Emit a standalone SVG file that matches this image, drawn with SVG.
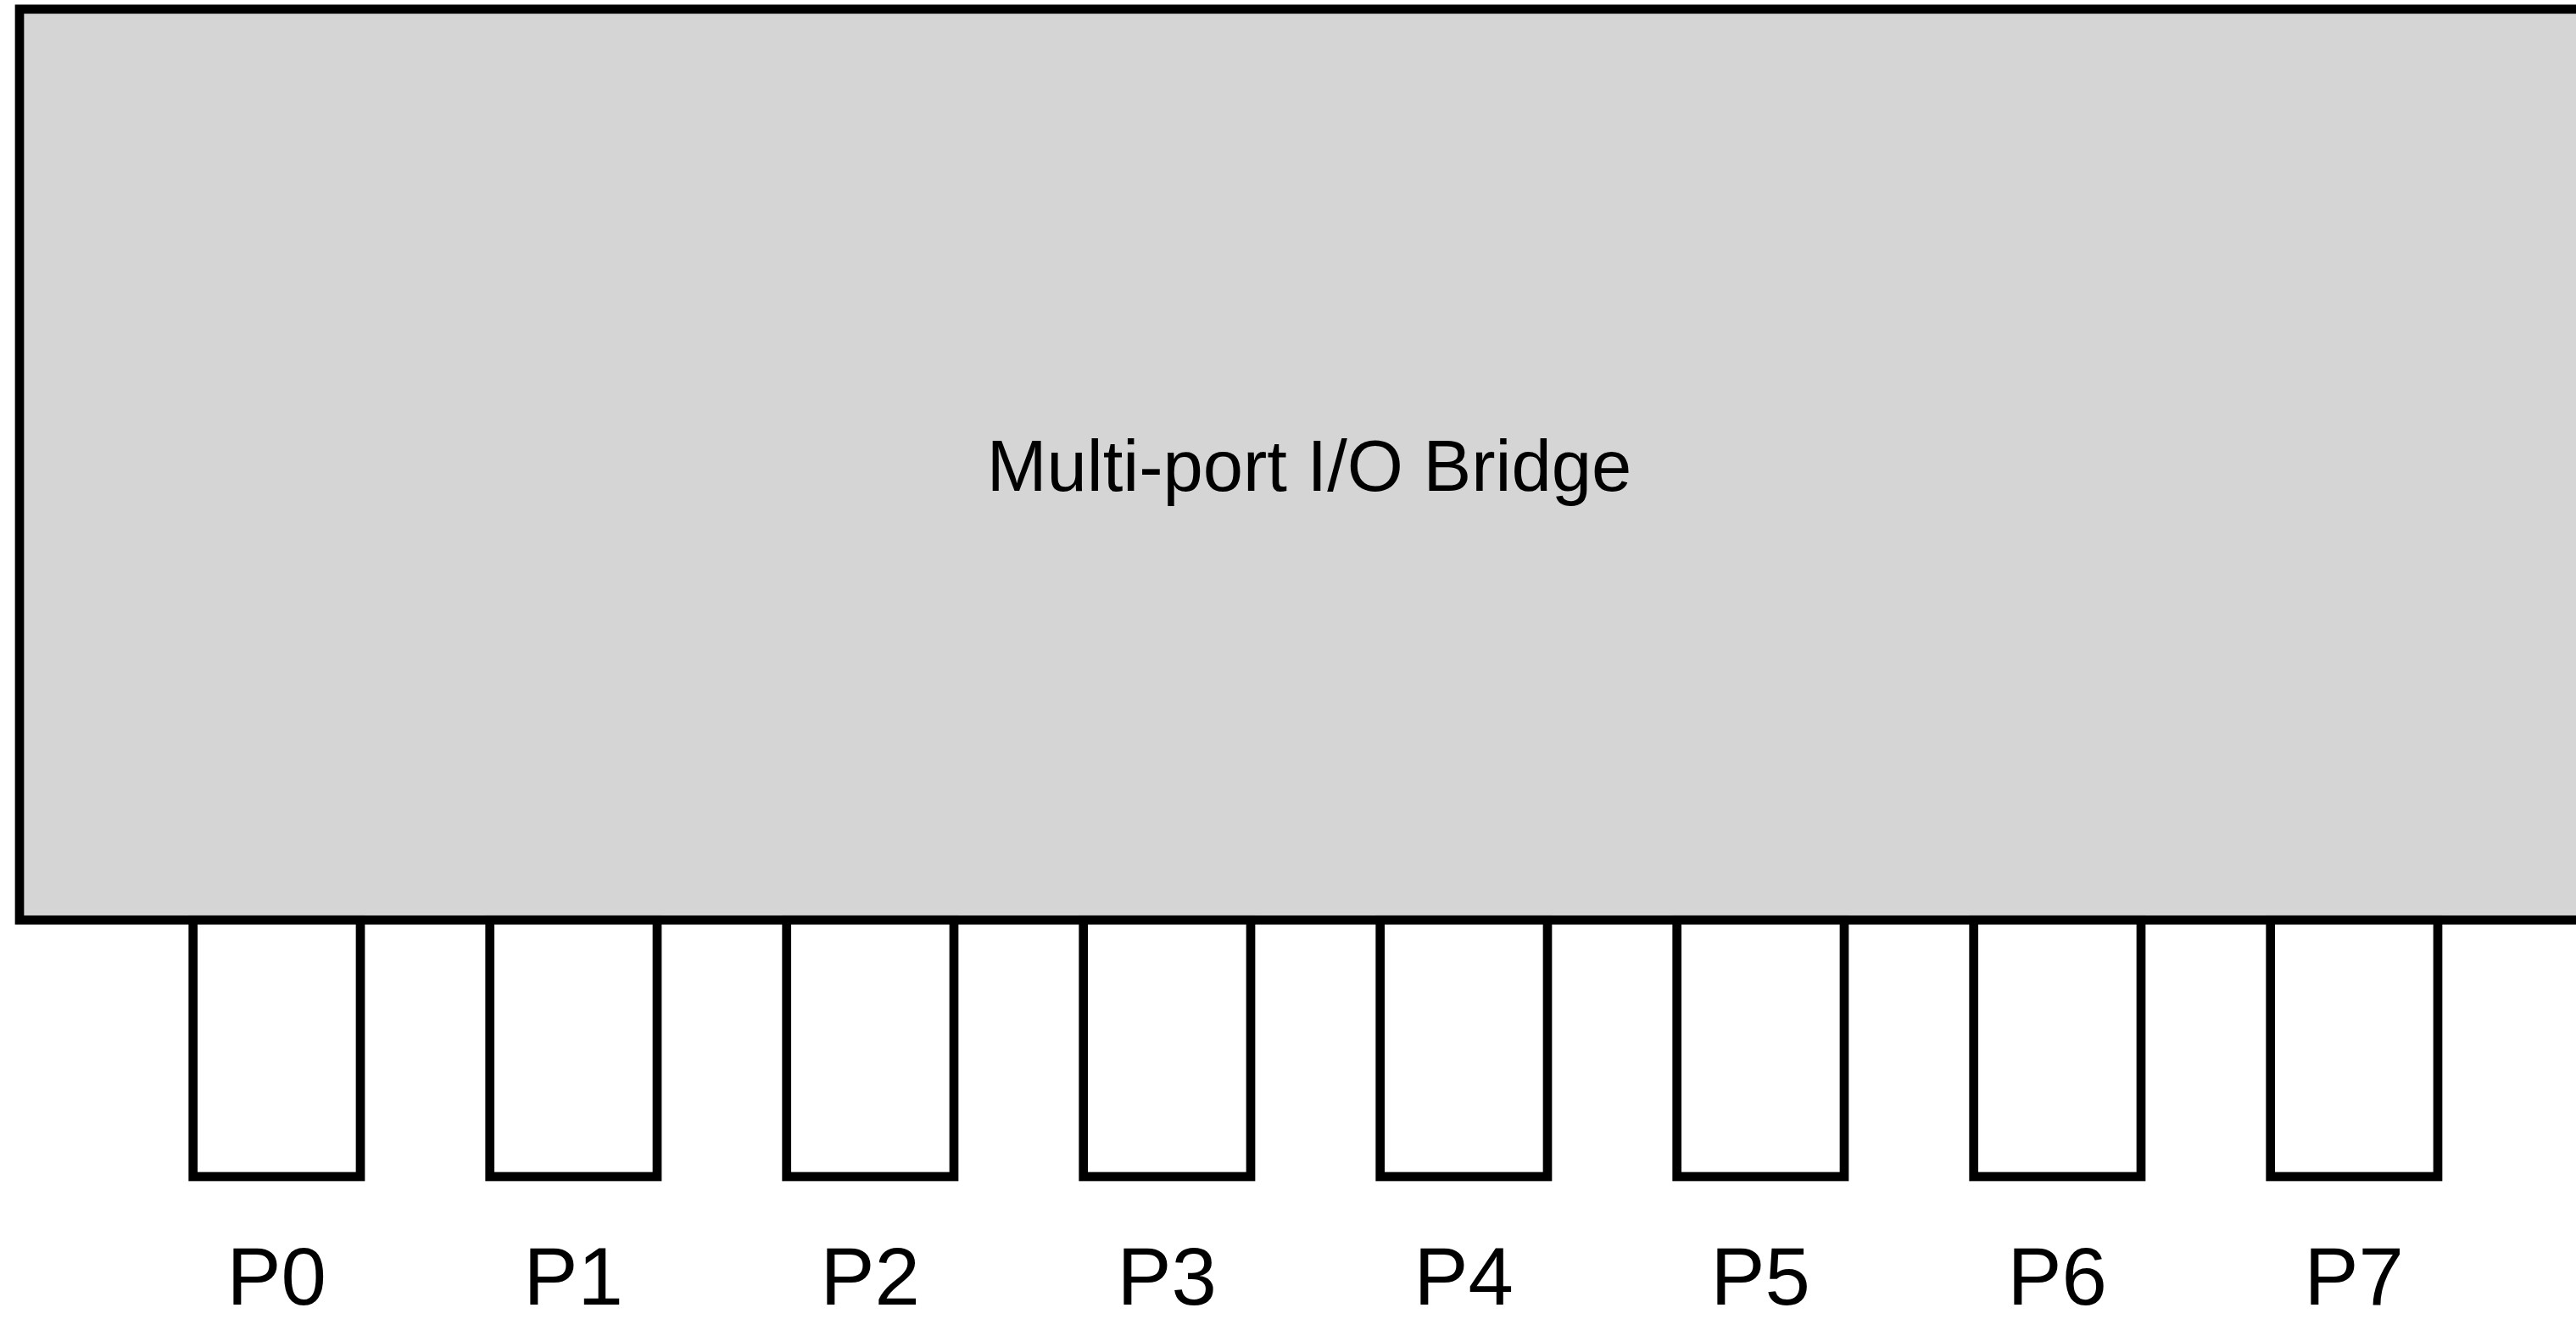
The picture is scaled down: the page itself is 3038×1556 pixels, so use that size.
<svg xmlns="http://www.w3.org/2000/svg" width="3038" height="1556" viewBox="0 0 3038 1556">
  <style>
    .box { stroke: #000; stroke-width: 10.7; }
    .main { fill: #d5d5d5; }
    .port { fill: #fff; }
    .lbl { font-family: "Liberation Sans", Arial, Helvetica, sans-serif; fill: #000; text-anchor: middle; }
    .title { font-size: 85px; }
    .plbl { font-size: 96px; }
  </style>
  <rect x="0" y="0" width="3038" height="1556" fill="#fff"/>
  <g id="bridge">
    <rect class="box main" x="23" y="10.8" width="3042" height="1074.5"/>
    <text class="lbl title" x="1544" y="579">Multi-port I/O Bridge</text>
  </g>
  <g id="connectors"></g>
  <g id="port-P0"><rect class="box port" x="227.7" y="1085.3" width="197.3" height="302.7"/><text class="lbl plbl" x="326.3" y="1539">P0</text></g>
  <g id="port-P1"><rect class="box port" x="577.7" y="1085.3" width="197.3" height="302.7"/><text class="lbl plbl" x="676.3" y="1539">P1</text></g>
  <g id="port-P2"><rect class="box port" x="927.7" y="1085.3" width="197.3" height="302.7"/><text class="lbl plbl" x="1026.3" y="1539">P2</text></g>
  <g id="port-P3"><rect class="box port" x="1277.7" y="1085.3" width="197.3" height="302.7"/><text class="lbl plbl" x="1376.3" y="1539">P3</text></g>
  <g id="port-P4"><rect class="box port" x="1627.7" y="1085.3" width="197.3" height="302.7"/><text class="lbl plbl" x="1726.3" y="1539">P4</text></g>
  <g id="port-P5"><rect class="box port" x="1977.7" y="1085.3" width="197.3" height="302.7"/><text class="lbl plbl" x="2076.3" y="1539">P5</text></g>
  <g id="port-P6"><rect class="box port" x="2327.7" y="1085.3" width="197.3" height="302.7"/><text class="lbl plbl" x="2426.3" y="1539">P6</text></g>
  <g id="port-P7"><rect class="box port" x="2677.7" y="1085.3" width="197.3" height="302.7"/><text class="lbl plbl" x="2776.3" y="1539">P7</text></g>
</svg>
